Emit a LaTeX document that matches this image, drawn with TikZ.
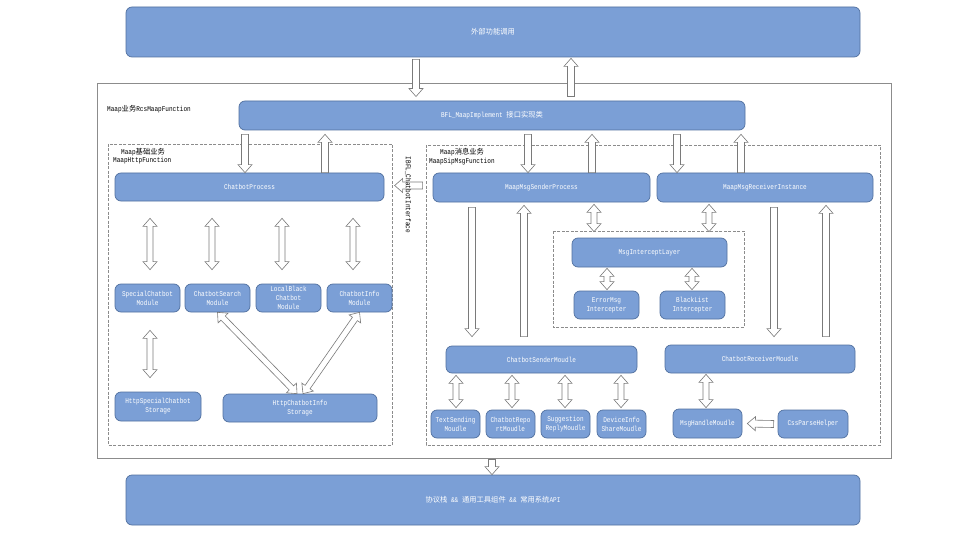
\documentclass[tikz,border=0pt]{standalone}
\usepackage{fontspec}
\setmainfont{Liberation Mono}[FakeStretch=0.83]
\newfontfamily\cjk{Noto Sans CJK SC}
\usetikzlibrary{calc}
\definecolor{boxfill}{HTML}{7B9FD6}
\definecolor{boxline}{HTML}{51709F}
\definecolor{frameline}{HTML}{8C8C8C}
\definecolor{arrline}{HTML}{7A7A7A}
\tikzset{
  box/.style={draw=boxline, fill=boxfill, rounded corners=6pt, line width=0.7pt, text=white,
    font=\fontsize{7.3}{9}\selectfont, align=center, inner sep=0pt},
  lbl/.style={font=\fontsize{7.3}{9}\selectfont, anchor=west, inner sep=0pt, text=black},
  dashbox/.style={draw=frameline, dash pattern=on 3pt off 1.5pt, line width=0.7pt},
  framebox/.style={draw=frameline, line width=0.9pt, inner sep=0pt},
  blk/.style={draw=arrline, fill=white, line width=0.6pt, line join=miter},
}
\newcommand{\bx}[6]{\node[box, minimum width={(#4-#2)*1pt}, minimum height={(#5-#3)*1pt}] (#1) at ({(#2+#4)/2},{(#3+#5)/2}) {#6};}
\newcommand{\sarr}[2]{%
  \path (#1) coordinate (sa) (#2) coordinate (sb);
  \path ($(sb)!8pt!(sa)$) coordinate (sc);
  \draw[blk] ($(sa)!3.5pt!90:(sb)$) -- ($(sc)!3.5pt!90:(sb)$) -- ($(sc)!7pt!90:(sb)$) -- (sb)
    -- ($(sc)!7pt!-90:(sb)$) -- ($(sc)!3.5pt!-90:(sb)$) -- ($(sa)!3.5pt!-90:(sb)$) -- cycle;}
\newcommand{\darr}[2]{%
  \path (#1) coordinate (sa) (#2) coordinate (sb);
  \path ($(sa)!8pt!(sb)$) coordinate (sc) ($(sb)!8pt!(sa)$) coordinate (sd);
  \draw[blk] (sa) -- ($(sc)!7pt!90:(sb)$) -- ($(sc)!3pt!90:(sb)$) -- ($(sd)!3pt!90:(sb)$)
    -- ($(sd)!7pt!90:(sb)$) -- (sb) -- ($(sd)!7pt!-90:(sb)$) -- ($(sd)!3pt!-90:(sb)$)
    -- ($(sc)!3pt!-90:(sb)$) -- ($(sc)!7pt!-90:(sb)$) -- cycle;}
\begin{document}
\begin{tikzpicture}[x=1pt,y=-1pt]
\useasboundingbox (0,0) rectangle (960,540);
\fill[white] (0,0) rectangle (960,540);
% containers
\node[framebox, minimum width=794pt, minimum height=375pt] (frame) at (494,270.5) {};
\draw[dashbox] (108,144) rectangle (392,445);
\draw[dashbox] (426,145) rectangle (880,445);
\draw[dashbox] (553,231) rectangle (744,327);
% labels
\node[lbl] (l1) at (107,109) {Maap{\cjk 业务}RcsMaapFunction};
\node[lbl] (l2) at (121,152) {Maap{\cjk 基础业务}};
\node[lbl] (l3) at (113,161) {MaapHttpFunction};
\node[lbl] (l4) at (440,152) {Maap{\cjk 消息业务}};
\node[lbl] (l5) at (429,162) {MaapSipMsgFunction};
% boxes
\bx{top}{126}{7}{860}{57}{{\cjk 外部功能调用}}
\bx{bfl}{239}{101}{745}{130}{BFL\_MaapImplement {\cjk 接口实现类}}
\bx{cp}{115}{173}{384}{201}{ChatbotProcess}
\bx{special}{115}{284}{180}{312}{SpecialChatbot\\Module}
\bx{search}{185}{284}{250}{312}{ChatbotSearch\\Module}
\bx{local}{256}{284}{321}{312}{LocalBlack\\Chatbot\\Module}
\bx{info}{327}{284}{392}{312}{ChatbotInfo\\Module}
\bx{hspecial}{115}{392}{201}{421}{HttpSpecialChatbot\\Storage}
\bx{hinfo}{223}{394}{377}{422}{HttpChatbotInfo\\Storage}
\bx{sender}{433}{173}{650}{202}{MaapMsgSenderProcess}
\bx{receiver}{657}{173}{873}{202}{MaapMsgReceiverInstance}
\bx{intercept}{572}{238}{727}{267}{MsgInterceptLayer}
\bx{errmsg}{574}{291}{639}{319}{ErrorMsg\\Intercepter}
\bx{blacklist}{660}{291}{725}{319}{BlackList\\Intercepter}
\bx{csender}{446}{346}{637}{373}{ChatbotSenderMoudle}
\bx{creceiver}{665}{345}{855}{373}{ChatbotReceiverMoudle}
\bx{textsend}{431}{410}{480}{438}{TextSending\\Moudle}
\bx{report}{486}{410}{535}{438}{ChatbotRepo\\rtMoudle}
\bx{suggest}{541}{410}{590}{438}{Suggestion\\ReplyMoudle}
\bx{device}{597}{410}{646}{438}{DeviceInfo\\ShareMoudle}
\bx{msghandle}{673}{409}{742}{438}{MsgHandleMoudle}
\bx{css}{778}{410}{848}{438}{CssParseHelper}
\bx{bottom}{126}{475}{860}{525}{{\cjk 协议栈} \&\& {\cjk 通用工具组件} \&\& {\cjk 常用系统}API}
% top arrows
\sarr{$(top.south -| 416,0)+(0,2)$}{$(frame.north -| 416,0)+(0,14)$}
\sarr{$(frame.north -| 571,0)+(0,14)$}{$(top.south -| 571,0)+(0,1)$}
\sarr{$(bfl.south -| 245,0)+(0,4)$}{cp.north -| 245,0}
\sarr{cp.north -| 325,0}{$(bfl.south -| 325,0)+(0,4)$}
\sarr{$(bfl.south -| 528,0)+(0,4)$}{sender.north -| 528,0}
\sarr{sender.north -| 592,0}{$(bfl.south -| 592,0)+(0,4)$}
\sarr{$(bfl.south -| 677,0)+(0,4)$}{receiver.north -| 677,0}
\sarr{receiver.north -| 741,0}{$(bfl.south -| 741,0)+(0,4)$}
% left module
\darr{$(cp.south -| 150,0)+(0,17)$}{$(special.north -| 150,0)+(0,-14)$}
\darr{$(cp.south -| 212,0)+(0,17)$}{$(search.north -| 212,0)+(0,-14)$}
\darr{$(cp.south -| 282,0)+(0,17)$}{$(local.north -| 282,0)+(0,-14)$}
\darr{$(cp.south -| 353,0)+(0,17)$}{$(info.north -| 353,0)+(0,-14)$}
\darr{$(special.south -| 150,0)+(0,18)$}{$(hspecial.north -| 150,0)+(0,-14)$}
\darr{search.south}{$(hinfo.north)+(-3,0)$}
\darr{info.south}{$(hinfo.north)+(3,0)$}
% interface arrow
\sarr{$(sender.west)+(-10,-2)$}{$(sender.west)+(-38,-2)$}
\node[lbl, anchor=center, rotate=-90] (ibfl) at (408,195) {IBFL\_ChatbotInterface};
% right module
\darr{$(sender.south -| 594,0)+(0,2)$}{$(intercept.north -| 594,0)+(0,-6)$}
\darr{$(receiver.south -| 709,0)+(0,2)$}{$(intercept.north -| 709,0)+(0,-6)$}
\darr{$(intercept.south -| 607,0)+(0,1)$}{$(errmsg.north -| 607,0)+(0,-1)$}
\darr{$(intercept.south -| 692,0)+(0,1)$}{$(blacklist.north -| 692,0)+(0,-1)$}
\sarr{$(sender.south -| 472,0)+(0,5)$}{$(csender.north -| 472,0)+(0,-9)$}
\sarr{$(csender.north -| 524,0)+(0,-9)$}{$(sender.south -| 524,0)+(0,3)$}
\sarr{$(receiver.south -| 774,0)+(0,5)$}{$(creceiver.north -| 774,0)+(0,-8)$}
\sarr{$(creceiver.north -| 826,0)+(0,-8)$}{$(receiver.south -| 826,0)+(0,3)$}
\darr{$(csender.south -| 456,0)+(0,2)$}{$(textsend.north -| 456,0)+(0,-2)$}
\darr{$(csender.south -| 512,0)+(0,2)$}{$(report.north -| 512,0)+(0,-2)$}
\darr{$(csender.south -| 565,0)+(0,2)$}{$(suggest.north -| 565,0)+(0,-2)$}
\darr{$(csender.south -| 621,0)+(0,2)$}{$(device.north -| 621,0)+(0,-2)$}
\darr{$(creceiver.south -| 706,0)+(0,1)$}{$(msghandle.north -| 706,0)+(0,-1)$}
\sarr{$(css.west)+(-4,0)$}{$(msghandle.east)+(5,0)$}
% bottom arrow
\sarr{$(frame.south -| 492,0)+(0,1)$}{bottom.north -| 492,0}
\end{tikzpicture}
\end{document}
